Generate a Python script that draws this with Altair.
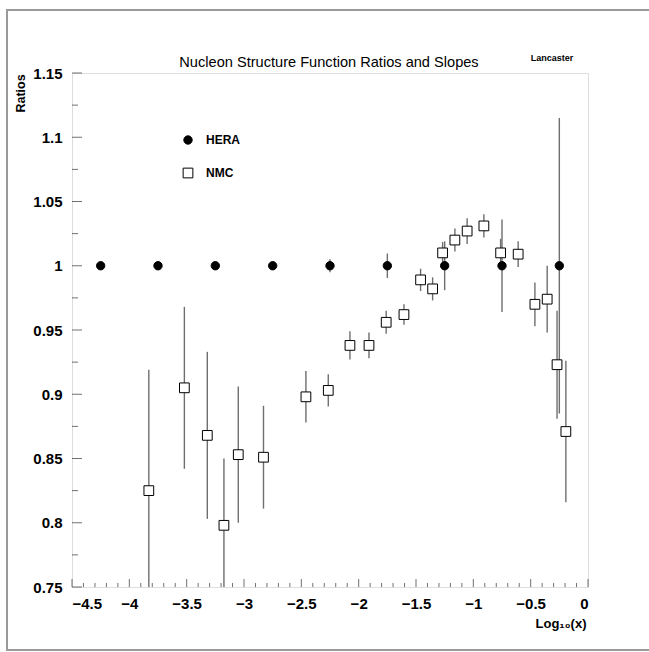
import altair as alt
import pandas as pd

# ---- data ----
hera_x = [-4.25, -3.75, -3.25, -2.75, -2.25, -1.75, -1.25, -0.75, -0.25]
hera_y = [1.0, 1.0, 1.0, 1.0, 1.0, 1.0, 1.0, 1.0, 1.0]
hera_err = [0.0, 0.0, 0.0, 0.0, 0.005, 0.0095, 0.019, 0.036, 0.115]

nmc_x = [-3.83, -3.52, -3.32, -3.175, -3.05, -2.83, -2.46, -2.265, -2.076, -1.91,
         -1.76, -1.605, -1.46, -1.355, -1.268, -1.161, -1.054, -0.908, -0.762,
         -0.609, -0.463, -0.356, -0.27, -0.193]
nmc_y = [0.825, 0.905, 0.868, 0.798, 0.853, 0.851, 0.898, 0.903, 0.938, 0.938,
         0.956, 0.962, 0.989, 0.982, 1.010, 1.020, 1.027, 1.031, 1.010,
         1.009, 0.970, 0.974, 0.923, 0.871]
nmc_err = [0.094, 0.063, 0.065, 0.052, 0.053, 0.040, 0.020, 0.0125, 0.011, 0.010,
           0.009, 0.008, 0.0087, 0.009, 0.0085, 0.009, 0.010, 0.009, 0.011,
           0.010, 0.017, 0.026, 0.042, 0.055]

x_tick_labels = [-4.5, -4, -3.5, -3, -2.5, -2, -1.5, -1, -0.5, 0]
y_tick_labels = [0.75, 0.8, 0.85, 0.9, 0.95, 1.0, 1.05, 1.1, 1.15]
x_minor = [round(-4.5 + 0.1 * i, 2) for i in range(46)]
y_minor = [round(0.75 + 0.025 * i, 3) for i in range(17)]

title_text = "Nucleon Structure Function Ratios and Slopes"
corner_text = "Lancaster"

series = ["HERA"] * len(hera_x) + ["NMC"] * len(nmc_x)
df = pd.DataFrame({
    "x": hera_x + nmc_x,
    "y": hera_y + nmc_y,
    "err": hera_err + nmc_err,
    "series": series,
})
df["lo"] = df["y"] - df["err"]
df["hi"] = df["y"] + df["err"]

FONT = "Liberation Sans"
XDOM = [-4.5, 0]
YDOM = [0.75, 1.15]

xscale = alt.Scale(domain=XDOM, nice=False, zero=False)
yscale = alt.Scale(domain=YDOM, nice=False, zero=False)

base = alt.Chart(df)

errbars = base.mark_rule(color="#6e6e6e", strokeWidth=1.4, clip=True).encode(
    x=alt.X("x:Q", scale=xscale),
    y=alt.Y("lo:Q", scale=yscale),
    y2="hi:Q",
)

points = base.mark_point(stroke="black", strokeWidth=1, opacity=1, filled=False).encode(
    x=alt.X("x:Q", scale=xscale,
            axis=alt.Axis(values=x_tick_labels, format="~g", ticks=False, grid=False,
                          domain=False, labelFont=FONT, labelFontSize=15,
                          labelFontWeight="bold", labelPadding=9, labelColor="black",
                          title="Log₁₀(x)", titleFont=FONT, titleFontSize=13,
                          titleFontWeight="bold", titleAlign="right", titleAnchor="end",
                          titleX=514, titleY=36, titleBaseline="middle", titleColor="black")),
    y=alt.Y("y:Q", scale=yscale,
            axis=alt.Axis(values=y_tick_labels, format="~g", ticks=False, grid=False,
                          domain=False, labelFont=FONT, labelFontSize=15,
                          labelFontWeight="bold", labelPadding=10, labelColor="black",
                          title="Ratios", titleFont=FONT, titleFontSize=12.5,
                          titleFontWeight="bold", titleAngle=-90, titleX=-52, titleY=20,
                          titleAlign="center", titleBaseline="middle", titleColor="black")),
    shape=alt.Shape("series:N", scale=alt.Scale(domain=["HERA", "NMC"], range=["circle", "square"]),
                    legend=alt.Legend(title=None, orient="none", legendX=110, legendY=61,
                                      labelFont=FONT, labelFontSize=12, labelFontWeight="bold",
                                      labelOffset=12, rowPadding=19, symbolStrokeColor="black",
                                      symbolStrokeWidth=1, labelColor="black")),
    fill=alt.Fill("series:N", scale=alt.Scale(domain=["HERA", "NMC"], range=["black", "white"])),
    size=alt.Size("series:N", scale=alt.Scale(domain=["HERA", "NMC"], range=[70, 95])),
)

# inward axis ticks
xt = pd.DataFrame({"v": x_minor})
xt["major"] = [abs(v * 2 - round(v * 2)) < 1e-6 for v in x_minor]
yt = pd.DataFrame({"v": y_minor})
yt["major"] = [abs(v * 20 - round(v * 20)) < 1e-6 for v in y_minor]

xticks_major = alt.Chart(xt[xt["major"]]).mark_tick(orient="vertical", size=8, color="#333333",
                                                    thickness=1, yOffset=-4).encode(
    x=alt.X("v:Q", scale=xscale), y=alt.datum(0.75, scale=yscale))
xticks_minor = alt.Chart(xt[~xt["major"]]).mark_tick(orient="vertical", size=4, color="#333333",
                                                     thickness=1, yOffset=-2).encode(
    x=alt.X("v:Q", scale=xscale), y=alt.datum(0.75, scale=yscale))
yticks_major = alt.Chart(yt[yt["major"]]).mark_tick(orient="horizontal", size=10, color="#333333",
                                                    thickness=1, xOffset=5).encode(
    y=alt.Y("v:Q", scale=yscale), x=alt.datum(-4.5, scale=xscale))
yticks_minor = alt.Chart(yt[~yt["major"]]).mark_tick(orient="horizontal", size=6, color="#333333",
                                                     thickness=1, xOffset=3).encode(
    y=alt.Y("v:Q", scale=yscale), x=alt.datum(-4.5, scale=xscale))

one = pd.DataFrame({"a": [1]})
frame = alt.Chart(one).mark_rect(filled=False, stroke="#9a9a9a", strokeWidth=2, clip=False).encode(
    x=alt.value(-65), x2=alt.value(584), y=alt.value(-63), y2=alt.value(577))
title = alt.Chart(one).mark_text(text=title_text, font=FONT, fontSize=14.6, fontWeight="normal",
                                 color="black", align="center", baseline="alphabetic").encode(
    x=alt.value(257), y=alt.value(-6))
lanc = alt.Chart(one).mark_text(text=corner_text, font=FONT, fontSize=9, fontWeight="bold",
                                color="black", align="center", baseline="middle").encode(
    x=alt.value(480), y=alt.value(-15))

chart = alt.layer(frame, errbars, xticks_major, xticks_minor, yticks_major, yticks_minor,
                  points, title, lanc).properties(
    width=516, height=514,
    autosize=alt.AutoSizeParams(type="none"),
    padding={"left": 72, "top": 73, "right": 61, "bottom": 65},
).configure_view(stroke="black", strokeWidth=1.2).configure(background="white")

chart.save("out.html", embed_options={"renderer": "svg", "actions": False})
